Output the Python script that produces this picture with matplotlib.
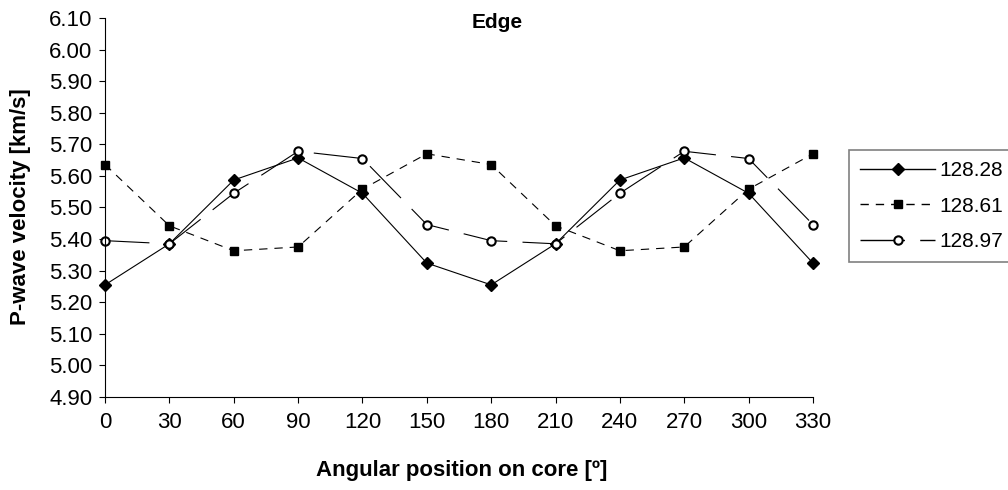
import numpy as np
import matplotlib.pyplot as plt

# data
angles = [0, 30, 60, 90, 120, 150, 180, 210, 240, 270, 300, 330]
v_12828 = [5.255, 5.385, 5.587, 5.657, 5.545, 5.324, 5.255, 5.385, 5.587, 5.657, 5.545, 5.324]
v_12861 = [5.636, 5.442, 5.363, 5.375, 5.558, 5.670, 5.636, 5.442, 5.363, 5.375, 5.558, 5.670]
v_12897 = [5.395, 5.385, 5.545, 5.678, 5.655, 5.446, 5.395, 5.385, 5.545, 5.678, 5.655, 5.446]
labels = ["128.28", "128.61", "128.97"]

plt.rcParams['font.family'] = ['Liberation Sans', 'DejaVu Sans']
plt.rcParams['lines.scale_dashes'] = False

fig = plt.figure(figsize=(10.08, 4.90), dpi=100)
ax = fig.add_axes([0.1042, 0.1898, 0.7023, 0.7735])

ax.plot(angles, v_12828, color='black', lw=0.8, marker='D', ms=6.5,
        mfc='black', mec='black', label=labels[0])
ax.plot(angles, v_12861, color='black', lw=0.8, dashes=(6, 5), marker='s', ms=6,
        mfc='black', mec='black', label=labels[1])
ax.plot(angles, v_12897, color='black', lw=0.8, dashes=(32, 11), marker='o', ms=6,
        mfc='white', mec='black', mew=1.5, label=labels[2])

ax.set_xlim(0, 330)
ax.set_ylim(4.90, 6.10)
ax.set_xticks(angles)
ax.set_yticks(np.arange(4.90, 6.11, 0.10))
ax.yaxis.set_major_formatter(plt.FormatStrFormatter('%.2f'))
ax.tick_params(direction='out', length=4, width=0.8, labelsize=16, pad=5)
ax.tick_params(axis='x', pad=7)
ax.spines['top'].set_visible(False)
ax.spines['right'].set_visible(False)
for s in ['left', 'bottom']:
    ax.spines[s].set_linewidth(0.8)
for ln in ax.lines:
    ln.set_clip_on(False)

fig.text(497 / 1008, 1 - 22 / 490, "Edge", ha='center', va='center',
         fontsize=15, fontweight='bold')
fig.text(462 / 1008, 1 - 470 / 490, "Angular position on core [º]", ha='center',
         va='center', fontsize=16, fontweight='bold')
fig.text(21 / 1008, 1 - 207 / 490, "P-wave velocity [km/s]", ha='center',
         va='center', rotation=90, fontsize=16, fontweight='bold')

leg = fig.legend(loc='upper left', bbox_to_anchor=(849 / 1008, 1 - 150 / 490),
                 fontsize=15, handlelength=3.6, handletextpad=0.2, borderpad=0.55,
                 labelspacing=0.78, fancybox=False, framealpha=1, borderaxespad=0)
leg.get_frame().set_edgecolor('#808080')
leg.get_frame().set_linewidth(1.2)
for h in leg.legend_handles:
    h.set_linewidth(1.0)

plt.savefig("out.png", dpi=100)
